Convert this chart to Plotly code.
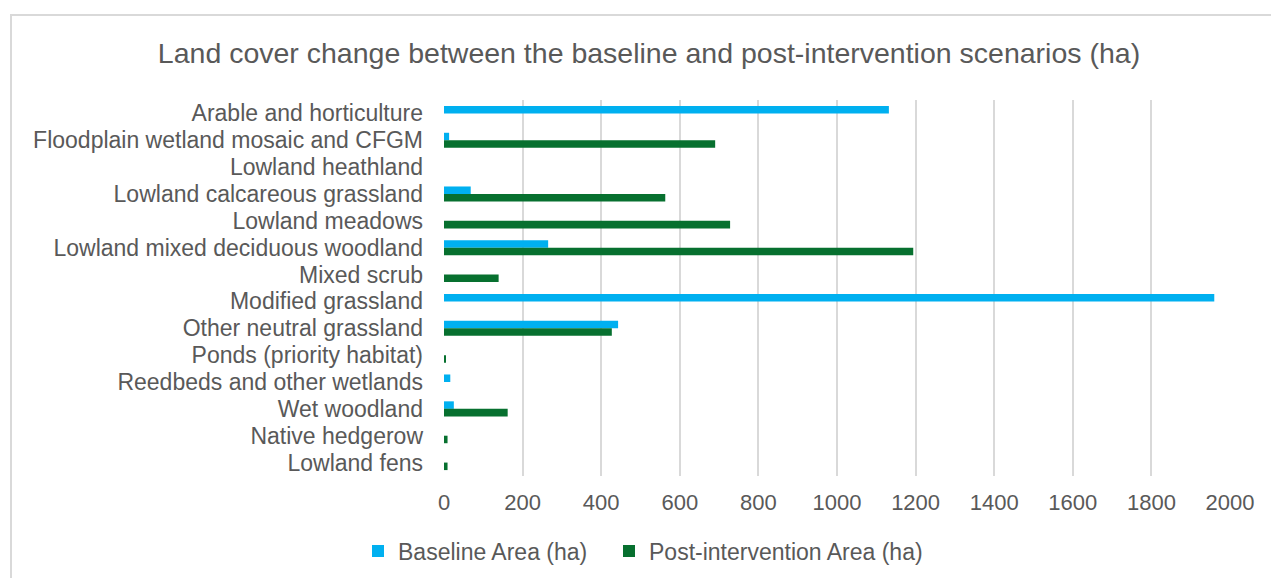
import plotly.graph_objects as go

# Land cover classes, listed top to bottom
categories = [
    "Arable and horticulture",
    "Floodplain wetland mosaic and CFGM",
    "Lowland heathland",
    "Lowland calcareous grassland",
    "Lowland meadows",
    "Lowland mixed deciduous woodland",
    "Mixed scrub",
    "Modified grassland",
    "Other neutral grassland",
    "Ponds (priority habitat)",
    "Reedbeds and other wetlands",
    "Wet woodland",
    "Native hedgerow",
    "Lowland fens",
]

# Areas in hectares
baseline_area = [1132, 13, 0, 68, 0, 265, 0, 1960, 443, 0, 16, 25, 0, 0]
post_area = [0, 690, 0, 563, 728, 1194, 139, 0, 427, 5, 0, 162, 9, 9]

x_ticks = [0, 200, 400, 600, 800, 1000, 1200, 1400, 1600, 1800, 2000]

TEXT = "#595959"
FONT = "Liberation Sans, Arial, sans-serif"

W, H = 1271, 578
L, R, T, B = 444, 41, 100, 102
plot_w = W - L - R
plot_h = H - T - B


def px_to_paper_x(px):
    return (px - L) / plot_w


def px_to_paper_y(py):
    return (H - B - py) / plot_h


fig = go.Figure()
fig.add_trace(go.Bar(
    y=categories, x=baseline_area, orientation="h",
    name="Baseline Area (ha)", marker=dict(color="#00B0F0", line=dict(width=0)),
    legend="legend", showlegend=True,
))
fig.add_trace(go.Bar(
    y=categories, x=post_area, orientation="h",
    name="Post-intervention Area (ha)", marker=dict(color="#07702F", line=dict(width=0)),
    legend="legend2", showlegend=True,
))

legend_style = dict(
    orientation="h", xanchor="left", yanchor="middle",
    y=px_to_paper_y(551),
    font=dict(size=23, color=TEXT), itemwidth=30,
    bgcolor="rgba(0,0,0,0)",
)

fig.update_layout(
    width=W, height=H,
    showlegend=True,
    margin=dict(l=L, r=R, t=T, b=B, autoexpand=False),
    paper_bgcolor="white", plot_bgcolor="white",
    barmode="group", bargap=0.44, bargroupgap=0,
    font=dict(family=FONT, color=TEXT, size=23),
    title=dict(
        text="Land cover change between the baseline and post-intervention scenarios (ha)",
        xref="container", x=649 / W, xanchor="center",
        yref="container", y=1 - 53 / H, yanchor="middle",
        font=dict(size=28.5, color=TEXT, family=FONT),
    ),
    xaxis=dict(
        range=[0, 2000], tickvals=x_ticks, showgrid=True,
        gridcolor="#d9d9d9", gridwidth=2, zeroline=False,
        showline=False, ticks="", ticklabelstandoff=11,
        tickfont=dict(size=22, color=TEXT), fixedrange=True,
    ),
    yaxis=dict(
        autorange="reversed", showgrid=False, showline=False,
        tickmode="array", tickvals=categories, ticktext=categories,
        ticks="", ticklabelstandoff=20,
        tickfont=dict(size=23, color=TEXT),
    ),
    legend=dict(legend_style, x=px_to_paper_x(358)),
    legend2=dict(legend_style, x=px_to_paper_x(609)),
    shapes=[dict(
        type="rect", xref="paper", yref="paper",
        x0=px_to_paper_x(11), x1=px_to_paper_x(W + 50),
        y0=px_to_paper_y(H + 50), y1=px_to_paper_y(15),
        line=dict(color="#d9d9d9", width=2), fillcolor="rgba(0,0,0,0)",
        layer="below",
    )],
)

fig.write_html("out.html")
